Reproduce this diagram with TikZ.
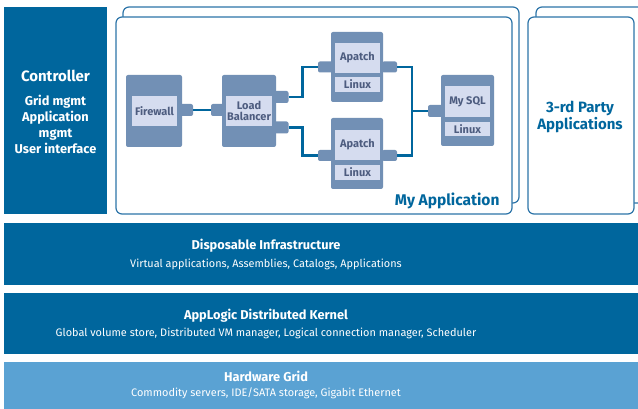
\documentclass[tikz,border=0pt]{standalone}
\usepackage{fontspec}
\setmainfont{Fira Sans}
\usetikzlibrary{positioning}
\definecolor{darkblue}{HTML}{00669D}
\definecolor{lightbar}{HTML}{5AA2D3}
\definecolor{framec}{HTML}{2C74A8}
\definecolor{vmblue}{HTML}{7290B5}
\definecolor{vmlight}{HTML}{D5DCEF}
\definecolor{vmtext}{HTML}{4D5C7F}
\tikzstyle{layer}=[fill=darkblue,inner sep=0pt,minimum width=640,minimum height=62]
\tikzstyle{frame}=[draw=framec,line width=1.2pt,fill=white,rounded corners=6pt,inner sep=0pt]
\tikzstyle{vm}=[fill=vmblue,rounded corners=2pt,inner sep=0pt,minimum width=54,minimum height=71]
\tikzstyle{lbl}=[fill=vmlight,text=vmtext,inner sep=0pt,minimum width=45,minimum height=30,align=center,font=\fontsize{11}{11.5}\selectfont\bfseries]
\tikzstyle{os}=[lbl,minimum height=15]
\tikzstyle{port}=[fill=vmblue,rounded corners=2pt,inner sep=0pt,minimum width=15,minimum height=12]
\tikzstyle{edge}=[draw=darkblue,line width=2.4pt]
\tikzstyle{title}=[text=white,font=\fontsize{12.8}{13}\selectfont\bfseries]
\tikzstyle{sub}=[text=white,font=\fontsize{10.9}{12}\selectfont]

\begin{document}
\begin{tikzpicture}[x=1pt,y=-1pt]
    \useasboundingbox (0,0) rectangle (638,409);

    % controller column
    \node[fill=darkblue,minimum width=103,minimum height=207,inner sep=0pt] (ctrl) at (55.5,110.5) {};
    \node[title,font=\fontsize{15}{15}\selectfont\bfseries] (ctrlt) at (55.5,76) {Controller};
    \node[sub,align=center,font=\fontsize{12.8}{16}\selectfont\bfseries] (ctrls) at (55.5,124) {Grid mgmt\\Application\\mgmt\\User interface};

    % application frames
    \node[frame,minimum width=396,minimum height=196] (appback) at (321,105) {};
    \node[frame,minimum width=396,minimum height=197] (app) at (314,115.5) {};
    \node[frame,minimum width=110,minimum height=196] (thirdback) at (591,105) {};
    \node[frame,minimum width=106,minimum height=197] (third) at (581,115.5) {};
    \node[text=darkblue,font=\fontsize{15}{17}\selectfont\bfseries,align=center] (thirdt) at (580,116.5) {3-rd Party\\Applications};
    \node[text=darkblue,font=\fontsize{15.5}{15.5}\selectfont\bfseries,anchor=east] (appt) at (503,201) {My Application};

    % ports
    \node[port,minimum width=13] (fwr) at (186.5,110) {};
    \node[port,minimum width=13] (lbl) at (217.5,110) {};
    \node[port] (lbt) at (281,97) {};
    \node[port] (lbb) at (281,127.5) {};
    \node[port,minimum height=11] (ap1l) at (325.5,67) {};
    \node[port,minimum height=11] (ap1r) at (389.5,67) {};
    \node[port,minimum height=11] (ap2l) at (325.5,155.5) {};
    \node[port,minimum height=11] (ap2r) at (389.5,155.5) {};
    \node[port] (myl) at (435.5,111) {};

    % machines
    \node[vm,minimum width=56,minimum height=72] (fw) at (154,111) {};
    \node[lbl] (fwn) at (154.5,111) {Firewall};
    \node[vm,minimum height=72] (lb) at (249,111) {};
    \node[lbl,minimum width=46] (lbn) at (249,111) {Load\\Balancer};
    \node[vm,minimum width=52,minimum height=70] (ap1) at (357,67) {};
    \node[lbl] (ap1n) at (357.5,58) {Apatch};
    \node[os] (ap1o) at (357.5,84.5) {Linux};
    \node[vm,minimum width=52] (ap2) at (357,153.5) {};
    \node[lbl] (ap2n) at (357.5,145) {Apatch};
    \node[os] (ap2o) at (357.5,172.5) {Linux};
    \node[vm,minimum width=53] (my) at (467.5,110.5) {};
    \node[lbl,minimum height=31] (myn) at (467.5,101.5) {My SQL};
    \node[os,minimum height=14] (myo) at (467.5,129) {Linux};

    % wiring
    \coordinate (lbus) at (302.5,110);
    \coordinate (dbus) at (412,110);
    \path[edge] (fwr.east) -- (lbl.west);
    \path[edge] (lbt.east) -- (lbt.east -| lbus) |- (ap1l.west);
    \path[edge] (lbb.east) -- (lbb.east -| lbus) |- (ap2l.west);
    \path[edge] (ap1r.east) -- (ap1r.east -| dbus) |- (myl.west);
    \path[edge] (ap2r.east) -- (ap2r.east -| dbus) |- (myl.west);

    % layers
    \node[layer] (dispo) at (324,254) {};
    \node[title] (dispot) at (266,246) {Disposable Infrastructure};
    \node[sub] (disposub) at (266,264) {Virtual applications, Assemblies, Catalogs, Applications};
    \node[layer,minimum height=61] (kern) at (324,323.5) {};
    \node[title] (kernt) at (266,316) {AppLogic Distributed Kernel};
    \node[sub] (kernsub) at (266,333) {Global volume store, Distributed VM manager, Logical connection manager, Scheduler};
    \node[layer,fill=lightbar,minimum height=48] (hw) at (324,386) {};
    \node[title] (hwt) at (266,376) {Hardware Grid};
    \node[sub] (hwsub) at (266,393) {Commodity servers, IDE/SATA storage, Gigabit Ethernet};
\end{tikzpicture}
\end{document}
